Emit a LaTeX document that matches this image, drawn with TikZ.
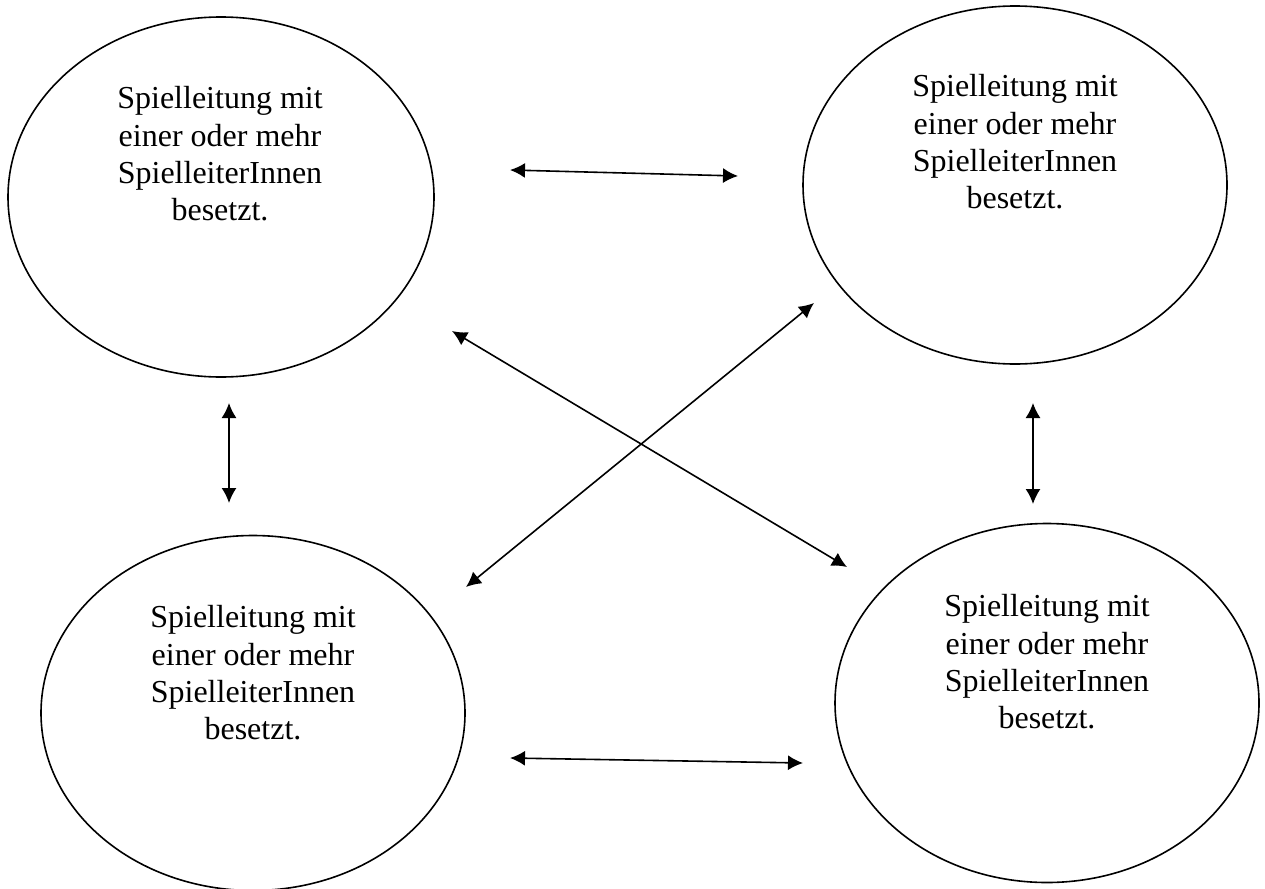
\documentclass[tikz,border=0pt]{standalone}
\usepackage{fontspec}
\setmainfont{Liberation Serif}
\usetikzlibrary{shapes.geometric,arrows.meta}
\tikzset{
  bubble/.style={draw, ellipse, line width=1.6pt, inner sep=0pt, outer sep=0pt},
  btext/.style={align=center, inner sep=0pt, font=\fontsize{32}{37.3}\selectfont},
  link/.style={line width=1.6pt, {Latex[length=15pt,width=15pt]}-{Latex[length=15pt,width=15pt]}}
}
\begin{document}
\begin{tikzpicture}[x=1pt,y=-1pt]
\useasboundingbox (0,0) rectangle (1265,888);
% ellipses
\node[bubble, minimum width=426pt, minimum height=360pt] (e1) at (221,197) {};
\node[bubble, minimum width=424pt, minimum height=358pt] (e2) at (1015,185) {};
\node[bubble, minimum width=424pt, minimum height=355pt] (e3) at (253,713) {};
\node[bubble, minimum width=424pt, minimum height=359pt] (e4) at (1047,703) {};
% texts
\node[btext] (t1) at (220,154) {Spielleitung mit\\einer oder mehr\\SpielleiterInnen\\besetzt.};
\node[btext] (t2) at (1015,142) {Spielleitung mit\\einer oder mehr\\SpielleiterInnen\\besetzt.};
\node[btext] (t3) at (253,673) {Spielleitung mit\\einer oder mehr\\SpielleiterInnen\\besetzt.};
\node[btext] (t4) at (1047,662) {Spielleitung mit\\einer oder mehr\\SpielleiterInnen\\besetzt.};
% arrow end points
\coordinate (a1l) at (510,170);
\coordinate (a1r) at (738,176);
\coordinate (a2t) at (229,403);
\coordinate (a2b) at (229,503);
\coordinate (a3t) at (1033,403);
\coordinate (a3b) at (1033,504);
\coordinate (a4s) at (452,331);
\coordinate (a4e) at (847,567);
\coordinate (a5s) at (466,587);
\coordinate (a5e) at (814,303);
\coordinate (a6l) at (510,758);
\coordinate (a6r) at (803,763);
% arrows
\draw[link] (a1l) -- (a1r);
\draw[link] (a2t) -- (a2b);
\draw[link] (a3t) -- (a3b);
\draw[link] (a4s) -- (a4e);
\draw[link] (a5s) -- (a5e);
\draw[link] (a6l) -- (a6r);
\end{tikzpicture}
\end{document}
